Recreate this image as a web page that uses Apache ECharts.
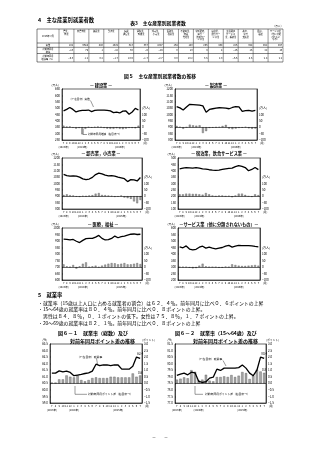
<!DOCTYPE html>
<html><head><meta charset="utf-8">
<script src="https://cdn.jsdelivr.net/npm/echarts@6/dist/echarts.min.js"></script>
<style>html,body{margin:0;padding:0;background:#fff;}#c{width:320px;height:453px;}</style>
</head><body><div id="c"></div>
<script>
// ================= DATA =================
const months = ['7','8','9','10','11','12','1','2','3','4','5','6','7','8','9','10','11','12','1','2','3','4','5','6','7'];
const yearLabels = ['(2023年)','(2024年)','(2025年)'];
const yearLabelIndex = [0, 6, 18];

// 表3 主な産業別就業者数
const tableCorner = '2025年 7月';
const tableHeaders = ['農業，\n林業','非農林業','建設業','製造業','情報\n通信業','運輸業，\n郵便業','卸売業，\n小売業','金融業，\n保険業','不動産業，\n物品\n賃貸業','学術研究，\n専門・\n技術サー\nビス業','宿泊業，\n飲食サー\nビス業','生活関連\nサービス\n業，娯楽業','教育，\n学習\n支援業','医療，\n福祉','サービス業\n（他に分類\nされない\nもの）'];
const tableRowLabels = ['実数','対前年同月\n増減','対前年同月\n増減率（%）'];
const tableActual = [192, 6688, 480, 1029, 313, 337, 1047, 164, 140, 266, 409, 226, 348, 952, 457];
const tableChange = [-13, 79, 1, -18, 30, -6, -29, 0, 13, 9, 8, -16, 15, 22, 10];
const tableChangeRate = [-6.3, 1.2, 0.2, -1.7, 10.6, -1.7, -2.7, 0.0, 10.2, 3.5, 2.0, -6.6, 4.5, 2.4, 2.2];

// 図5 主な産業別就業者数の推移 (万人)
const constructionLine = [478, 490, 505, 490, 470, 478, 483, 483, 485, 473, 482, 484, 485, 485, 482, 478, 465, 468, 462, 476, 478, 452, 470, 498, 485];
const constructionDiff = [12, 5, 6, -4, -10, -6, -55, -12, 3, -3, 2, 5, 3, -6, -10, -12, -12, -8, -12, -15, -10, -5, -6, -8, 12];
const manufacturingLine = [1062, 1052, 1035, 1058, 1080, 1078, 1076, 1073, 1068, 1018, 1040, 1045, 1050, 1053, 1052, 1050, 1045, 1055, 1062, 1060, 1025, 1030, 1032, 1026, 1032];
const manufacturingDiff = [10, 3, -12, 0, 20, 15, 12, 15, -45, -30, -5, -3, 0, 2, 10, 18, -10, -15, -10, -5, -3, 3, -8, -12, -10];
const wholesaleLine = [1072, 1062, 1058, 1060, 1058, 1050, 1036, 1030, 1035, 1048, 1070, 1082, 1075, 1065, 1060, 1062, 1058, 1050, 1045, 1038, 1015, 1030, 1028, 1020, 1047];
const wholesaleDiff = [10, 15, 8, 5, -3, -5, 3, 0, 5, 8, 20, 25, 10, 8, 5, 3, -5, -3, 5, -10, -15, -20, -40, -55, -29];
const accommodationLine = [415, 420, 425, 423, 420, 424, 420, 415, 412, 408, 405, 403, 405, 410, 415, 418, 420, 432, 440, 435, 425, 400, 410, 425, 409];
const accommodationDiff = [15, 15, 20, 20, 18, 18, 15, 12, 25, 15, 5, 0, 5, 5, 0, 3, -8, 5, 20, 20, 10, 0, -5, 15, 8];
const medicalLine = [915, 912, 908, 912, 898, 888, 905, 918, 920, 920, 930, 943, 920, 908, 910, 920, 938, 925, 933, 938, 945, 952, 954, 950, 952];
const medicalDiff = [20, 5, 0, 15, -12, 5, 25, 35, 0, 5, 10, -2, 10, 18, 25, 30, 28, 20, 25, 30, 20, 20, 25, 30, 22];
const servicesLine = [455, 448, 462, 438, 432, 436, 452, 460, 445, 452, 445, 440, 445, 450, 460, 466, 453, 460, 466, 465, 464, 464, 462, 458, 455];
const servicesDiff = [0, 0, 0, -5, -10, -8, 10, 25, 5, 0, 0, 0, -5, -5, 3, 0, 20, 15, 10, 8, 8, 10, 12, 15, 10];

// 図6-1 就業率（総数） (%) と 対前年同月ポイント差
const empRateTotal = [61.28, 61.28, 61.45, 61.38, 61.43, 61.33, 61.08, 61.13, 61.18, 61.25, 61.3, 61.43, 61.96, 61.85, 61.9, 61.9, 61.85, 61.9, 61.9, 61.58, 61.58, 61.58, 61.8, 62.5, 62.4];
const empRateTotalDiff = [0.05, 0.05, 0.3, 0.3, 0.6, 0.5, 0.45, 0.6, 0.25, 0.15, 0.25, 0.4, 0.45, 0.4, 0.4, 0.4, 0.5, 0.5, 0.45, 0.45, 0.45, 0.45, 0.75, 0.5, 0.6];
// 図6-2 就業率（15～64歳）
const empRate1564 = [79.1, 79.2, 79.28, 79.15, 79.35, 79.3, 78.65, 78.57, 78.62, 78.9, 78.97, 79.58, 79.48, 79.66, 79.66, 79.66, 79.66, 79.7, 79.9, 79.66, 79.28, 79.08, 79.5, 80.5, 80.4];
const empRate1564Diff = [0.28, 0.35, 0.45, 0.38, 1.0, 0.88, 0.23, 0.28, 0.65, 0.2, 0.15, 0.48, 0.48, 0.53, 0.48, 0.63, 0.48, 0.58, 0.86, 0.78, 0.33, 0.58, 1.04, 0.9, 0.8];

// ================= BUILD =================
const FONT = '"Noto Sans CJK JP","Noto Sans CJK SC",sans-serif';
const minus = s => String(s).replace('-', '−');
const grids = [], xAxes = [], yAxes = [], series = [];

function addChart(c) {
  const gi = grids.length;
  grids.push({left: c.box[0], top: c.box[1], width: c.box[2], height: c.box[3], show: true,
    borderColor: '#000', borderWidth: 0.6, backgroundColor: 'rgba(0,0,0,0)'});
  xAxes.push({type: 'category', gridIndex: gi, data: months, boundaryGap: true,
    axisLine: {show: true, onZero: false, lineStyle: {color: '#000', width: 0.6}},
    axisTick: {show: false}, splitLine: {show: false},
    axisLabel: {interval: 0, fontSize: 2.6, margin: 1.6, color: '#000', fontFamily: FONT, lineHeight: 3.3,
      formatter: (v, i) => { const k = yearLabelIndex.indexOf(i); return k >= 0 ? v + '\n' + yearLabels[k] : v; }},
    name: '(月)', nameLocation: 'end', nameGap: 1.2,
    nameTextStyle: {fontSize: 2.6, color: '#000', fontFamily: FONT, verticalAlign: 'top', padding: [2.2, 0, 0, 0]}});
  const li = yAxes.length;
  yAxes.push({type: 'value', gridIndex: gi, position: 'left', min: c.lmin, max: c.lmax, interval: c.lint,
    axisLine: {show: true, lineStyle: {color: '#000', width: 0.6}},
    axisTick: {show: true, inside: true, length: 1, lineStyle: {color: '#000', width: 0.4}},
    splitLine: {show: false},
    axisLabel: {fontSize: 3, margin: 2, color: '#000', fontFamily: FONT, formatter: c.lfmt},
    name: c.lname, nameLocation: 'end', nameGap: 2.2,
    nameTextStyle: {fontSize: 2.8, color: '#000', fontFamily: FONT, align: 'right', padding: [0, 3, 0, 0]}});
  yAxes.push({type: 'value', gridIndex: gi, position: 'right', min: c.rmin, max: c.rmax, interval: c.rint,
    axisLine: {show: true, lineStyle: {color: '#000', width: 0.6}},
    axisTick: {show: false}, splitLine: {show: false},
    axisLabel: {fontSize: 3, margin: 2, color: '#000', fontFamily: FONT, formatter: c.rfmt},
    name: c.rname || '', nameLocation: 'end', nameGap: 2.2,
    nameTextStyle: {fontSize: 2.8, color: '#000', fontFamily: FONT, align: 'left', padding: [0, 0, 0, 0]}});
  const last = c.bars.length - 1;
  series.push({type: 'bar', xAxisIndex: gi, yAxisIndex: li + 1, barWidth: c.barWidth || '58%',
    data: c.bars.map((v, i) => (i === last && c.barLabel) ? {value: v, label: {show: true, position: 'top', distance: 1.5,
      formatter: c.barLabel, fontSize: 3, color: '#000', fontFamily: FONT}} : v),
    itemStyle: {color: '#a8a8a8', borderColor: '#333', borderWidth: 0.3},
    markLine: {silent: true, symbol: 'none', animation: false, label: {show: false},
      lineStyle: {color: '#000', width: 0.6, type: 'solid'}, data: [{yAxis: 0}]}});
  series.push({type: 'line', xAxisIndex: gi, yAxisIndex: li, symbol: 'circle', symbolSize: 0.01, showSymbol: true,
    data: c.line.map((v, i) => (i === last && c.lineLabel) ? {value: v, label: {show: true, position: 'top', distance: 3,
      formatter: c.lineLabel, fontSize: 3, color: '#000', fontFamily: FONT}} : v),
    lineStyle: {color: '#000', width: 1.3}, itemStyle: {color: '#000'}});
}

const intFmt = v => minus(v);
const manFmt = v => v === 150 ? '(万人)' : (v > 100 ? '' : minus(v));
const industry = [
  {box: [62, 89, 78, 51], line: constructionLine, bars: constructionDiff, lmin: 250, lmax: 650},
  {box: [175, 89, 82, 51], line: manufacturingLine, bars: manufacturingDiff, lmin: 800, lmax: 1200},
  {box: [62, 158, 80, 51], line: wholesaleLine, bars: wholesaleDiff, lmin: 800, lmax: 1200},
  {box: [178, 158, 82, 51], line: accommodationLine, bars: accommodationDiff, lmin: 100, lmax: 500},
  {box: [62, 228, 80, 52], line: medicalLine, bars: medicalDiff, lmin: 600, lmax: 1000},
  {box: [178, 228, 82, 52], line: servicesLine, bars: servicesDiff, lmin: 200, lmax: 600}
];
industry.forEach(c => addChart(Object.assign({lint: 50, rmin: -100, rmax: 300, rint: 50,
  lfmt: intFmt, rfmt: manFmt, lname: '(万人)'}, c)));

const pctFmt = v => minus(v.toFixed(1));
addChart({box: [50, 344, 92, 59], line: empRateTotal, bars: empRateTotalDiff, lmin: 59.0, lmax: 63.5, lint: 0.5,
  rmin: -1.5, rmax: 3.0, rint: 0.5, lfmt: pctFmt, rfmt: pctFmt, lname: '(%)', rname: '(ポイント)',
  barWidth: '62%', lineLabel: p => p.value.toFixed(1), barLabel: p => p.value.toFixed(1)});
addChart({box: [175, 344, 91, 59], line: empRate1564, bars: empRate1564Diff, lmin: 77.0, lmax: 81.5, lint: 0.5,
  rmin: -1.5, rmax: 3.0, rint: 0.5, lfmt: pctFmt, rfmt: pctFmt, lname: '(%)', rname: '(ポイント)',
  barWidth: '62%', lineLabel: p => p.value.toFixed(1), barLabel: p => p.value.toFixed(1)});

// ================= TEXT / TABLE GRAPHICS =================
const G = [];
function T(x, y, text, size, o) {
  o = o || {};
  G.push({type: 'text', x: x, y: y, silent: true, style: {text: text, fontSize: size, fontFamily: FONT,
    fontWeight: o.bold ? 'bold' : 'normal', fill: '#000',
    align: o.align || 'left', textAlign: o.align || 'left',
    verticalAlign: o.va || 'middle', textVerticalAlign: o.va || 'middle', lineHeight: o.lh || size * 1.15}});
}
function L(x1, y1, x2, y2, w) {
  G.push({type: 'line', silent: true, shape: {x1: x1, y1: y1, x2: x2, y2: y2}, style: {stroke: '#000', lineWidth: w || 0.5}});
}

T(38, 19.5, '4　主な産業別就業者数', 5.3, {bold: true});
T(158, 23, '表3　主な産業別就業者数', 4.8, {align: 'center', bold: true});
T(283, 26.5, '（万人）', 2.6, {align: 'right'});

// table
const TX0 = 37, TX1 = 283, TLW = 22, TY = [29, 43, 47.3, 53.5, 62];
const colW = (TX1 - TX0 - TLW) / tableHeaders.length;
TY.forEach(y => L(TX0, y, TX1, y, 0.5));
L(TX0, TY[0], TX0, TY[4], 0.5);
for (let k = 0; k <= tableHeaders.length; k++) L(TX0 + TLW + k * colW, TY[0], TX0 + TLW + k * colW, TY[4], 0.4);
T(TX0 + TLW / 2, (TY[0] + TY[1]) / 2, tableCorner, 2.4, {align: 'center'});
tableHeaders.forEach((h, k) => T(TX0 + TLW + (k + 0.5) * colW, TY[0] + 1, h, 2.2, {align: 'center', va: 'top', lh: 2.7}));
tableRowLabels.forEach((r, j) => T(TX0 + TLW / 2, (TY[j + 1] + TY[j + 2]) / 2, r, 2.2, {align: 'center', lh: 2.6}));
const rows = [tableActual.map(v => String(v)), tableChange.map(v => minus(v)), tableChangeRate.map(v => minus(v.toFixed(1)))];
rows.forEach((row, j) => row.forEach((v, k) => T(TX0 + TLW + (k + 1) * colW - 0.8, (TY[j + 1] + TY[j + 2]) / 2, v, 2.5, {align: 'right'})));

// figure 5
T(160, 76, '図５　主な産業別就業者数の推移', 4.8, {align: 'center', bold: true});
T(101, 85.5, '— 建設業 —', 4.2, {align: 'center', bold: true});
T(216, 85.5, '— 製造業 —', 4.2, {align: 'center', bold: true});
T(101, 153.5, '— 卸売業，小売業 —', 4.2, {align: 'center', bold: true});
T(219, 153.5, '— 宿泊業，飲食サービス業 —', 4.2, {align: 'center', bold: true});
T(103, 224, '— 医療，福祉 —', 4.2, {align: 'center', bold: true});
T(219, 224.5, '—サービス業（他に分類されないもの）—', 4.2, {align: 'center', bold: true});
// annotations chart 1
T(69, 99.5, '（←左目盛）実数', 2.6);
L(90.5, 100.5, 93.5, 107, 0.4);
T(88, 134.5, '対前年同月増減（右目盛→）', 2.6);
L(83, 129, 83, 134.5, 0.4); L(83, 134.5, 87, 134.5, 0.4);

// section 5
T(38, 295, '5　就業率', 5.3, {bold: true});
T(38, 302.8, '・就業率（15歳以上人口に占める就業者の割合）は６２．４％。前年同月に比べ０．６ポイントの上昇', 4.9);
T(38, 309.6, '・15～64歳の就業率は８０．４％。前年同月に比べ０．８ポイントの上昇。', 4.9);
T(43, 316.3, '男性は８４．８％，０．１ポイントの低下。女性は７５．８％，１．７ポイントの上昇。', 4.9);
T(38, 323, '・20～69歳の就業率は８２．１％。前年同月に比べ０．８ポイントの上昇', 4.9);

T(58, 333.3, '図６－１　就業率（総数）及び', 5, {bold: true});
T(70, 341, '対前年同月ポイント差の推移', 5, {bold: true});
T(175, 333.3, '図６－２　就業率（15～64歳）及び', 5, {bold: true});
T(193, 341, '対前年同月ポイント差の推移', 5, {bold: true});

T(77, 357, '（←左目盛）就業率', 2.8);
L(96.5, 358.5, 97.5, 364, 0.4);
T(88, 394.3, '対前年同月ポイント差（右目盛→）', 2.8);
L(75, 386, 75, 394.3, 0.4); L(75, 394.3, 87, 394.3, 0.4);
T(197, 359, '（←左目盛）就業率', 2.8);
L(223, 360.5, 226, 366, 0.4);
T(205, 394.3, '対前年同月ポイント差（右目盛→）', 2.8);
L(195, 386, 195, 394.3, 0.4); L(195, 394.3, 203, 394.3, 0.4);

T(160, 437, '－　　－', 4, {align: 'center'});

const chart = echarts.init(document.getElementById('c'), null, {renderer: 'canvas', width: 320, height: 453});
chart.setOption({
  animation: false,
  backgroundColor: '#fff',
  textStyle: {fontFamily: FONT},
  grid: grids, xAxis: xAxes, yAxis: yAxes, series: series,
  graphic: {elements: G}
});
</script>
</body></html>
